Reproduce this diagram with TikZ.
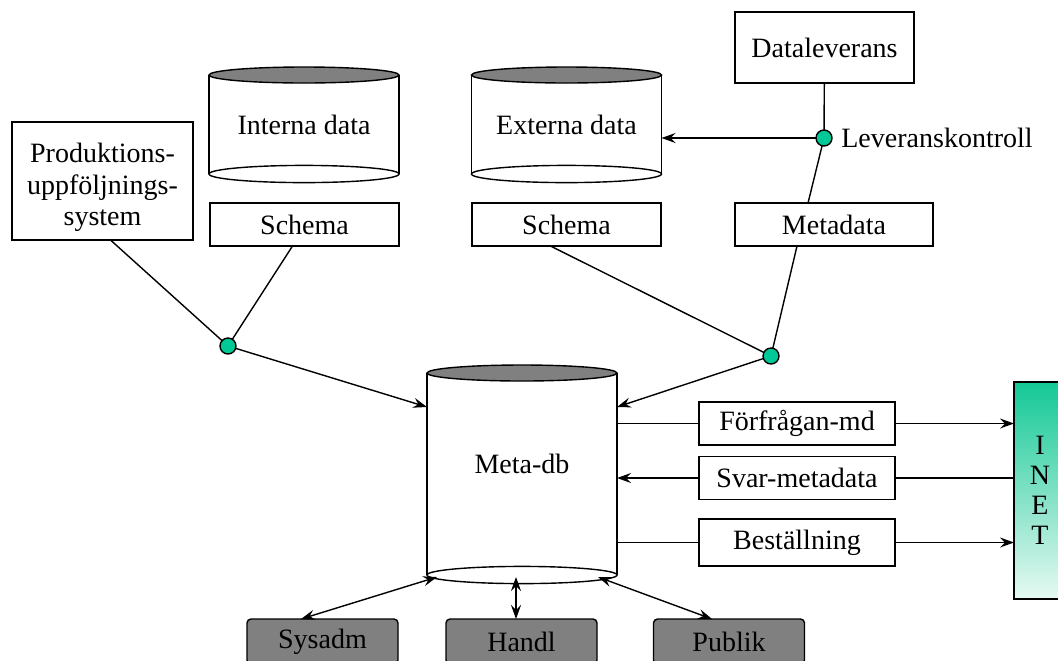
\documentclass[tikz,border=0pt]{standalone}
\usepackage{fontspec}
\setmainfont{Liberation Serif}
\usetikzlibrary{arrows.meta,positioning}
\definecolor{knot}{RGB}{0,200,150}
\definecolor{tanktop}{RGB}{128,128,128}
\definecolor{inettop}{RGB}{20,200,150}
\definecolor{inetbot}{RGB}{230,249,242}

\begin{document}
\begin{tikzpicture}[x=0.5pt, y=-0.5pt,
 font=\fontsize{14}{15.75}\selectfont,
 line width=0.7pt, >={Stealth[length=7pt,width=5pt,inset=2.5pt]},
    B/.style = {rectangle, draw, fill=white,% plain boxes
                minimum height=21.5pt, outer sep=0pt, inner sep=2pt},
    T/.style = {rectangle, minimum width=95pt,% body of a tank
                minimum height=49.5pt, outer sep=0pt},
    K/.style = {circle, draw, fill=knot,% knots
                minimum size=8pt, inner sep=0pt, outer sep=0pt},
    U/.style = {rectangle, rounded corners=2pt, draw, fill=tanktop,% users
                minimum width=75.5pt, minimum height=22.5pt, outer sep=0pt},
                        ]
\useasboundingbox (0,0) rectangle (1058,660);
\clip (0,0) rectangle (1058,660);
% sources
\node[B, minimum width=90.5pt, minimum height=59pt] (prod) at (102.5,181)
    {\raisebox{-3.5pt}[\height][\depth]{\begin{tabular}{@{}c@{}}Produktions-\\uppföljnings-\\system\end{tabular}}};
\node[T] (indata) at (304,124.5) {Interna data};
\node[B, minimum width=94.5pt] (schemaA) at (304.5,224.5) {Schema};
\node[T] (exdata) at (566.5,124.5) {Externa data};
\node[B, minimum width=94.5pt] (schemaB) at (566.5,224.5) {Schema};
\node[B, minimum width=89.5pt, minimum height=35.5pt] (lev) at (824.5,47.5) {Dataleverans};
\node[K] (levctl) at (824,138) {};
\node[right=1pt of levctl] (levtxt) {Leveranskontroll};
\node[B, minimum width=99pt] (meta) at (834,224.5) {Metadata};
\node[K] (juncA) at (228,346) {};
\node[K] (juncB) at (771,356) {};
% meta-db and its links
\node[T, minimum height=101pt] (metadb) at (522,474) {\raisebox{5pt}[\height][\depth]{Meta-db}};
\node[B, minimum width=98pt] (ask) at (797,423.5) {Förfrågan-md};
\node[B, minimum width=98pt] (answer) at (797,478) {Svar-metadata};
\node[B, minimum width=98pt, minimum height=23.5pt] (order) at (797,542.5) {Beställning};
\node[rectangle, draw, top color=inettop, bottom color=inetbot,
      minimum width=26pt, minimum height=108.5pt, align=center,
      outer sep=0pt, font=\fontsize{14}{15}\selectfont] (inet) at (1040,490.5) {I\\N\\E\\T};
\node[U] (sysadm) at (322.5,641.5) {Sysadm};
\node[U] (handl) at (521.5,641.5) {Handl};
\node[U] (publik) at (729,641.5) {Publik};
% tanks
\foreach \t in {indata,exdata,metadb}{
    \draw (\t.north west) -- (\t.south west) (\t.north east) -- (\t.south east);
    \draw[fill=tanktop] (\t.north) ellipse [x radius=47.5pt, y radius=4pt];
    \draw[fill=white] (\t.south) ellipse [x radius=47.5pt, y radius=4.3pt];
}
% connectors
\draw (lev) -- (levctl);
\draw[->] (levctl) -- (levctl -| exdata.east);
\draw (levctl) -- ([xshift=-13pt]meta.north);
\draw ([xshift=4pt]prod.south) -- (juncA);
\draw ([xshift=-6pt]schemaA.south) -- (juncA);
\draw[->] (juncA) -- ([yshift=-17pt]metadb.north west);
\draw ([xshift=-8pt]schemaB.south) -- (juncB);
\draw ([xshift=-18.5pt]meta.south) -- (juncB);
\draw[->] (juncB) -- ([yshift=-17pt]metadb.north east);
\draw (ask.west -| metadb.east) -- (ask.west);
\draw[->] (ask.east) -- (ask.east -| inet.west);
\draw (answer.east -| inet.west) -- (answer.east);
\draw[->] (answer.west) -- (answer.west -| metadb.east);
\draw (order.west -| metadb.east) -- (order.west);
\draw[->] (order.east) -- (order.east -| inet.west);
\draw[<->] ([xshift=-10.75pt]sysadm.north) -- ([xshift=-42.5pt,yshift=-1pt]metadb.south);
\draw[<->] ([xshift=-2.75pt]handl.north) -- ([xshift=-3pt,yshift=-1pt]metadb.south);
\draw[<->] ([xshift=-8.5pt]publik.north) -- ([xshift=38pt,yshift=-1pt]metadb.south);
\end{tikzpicture}
\end{document}
